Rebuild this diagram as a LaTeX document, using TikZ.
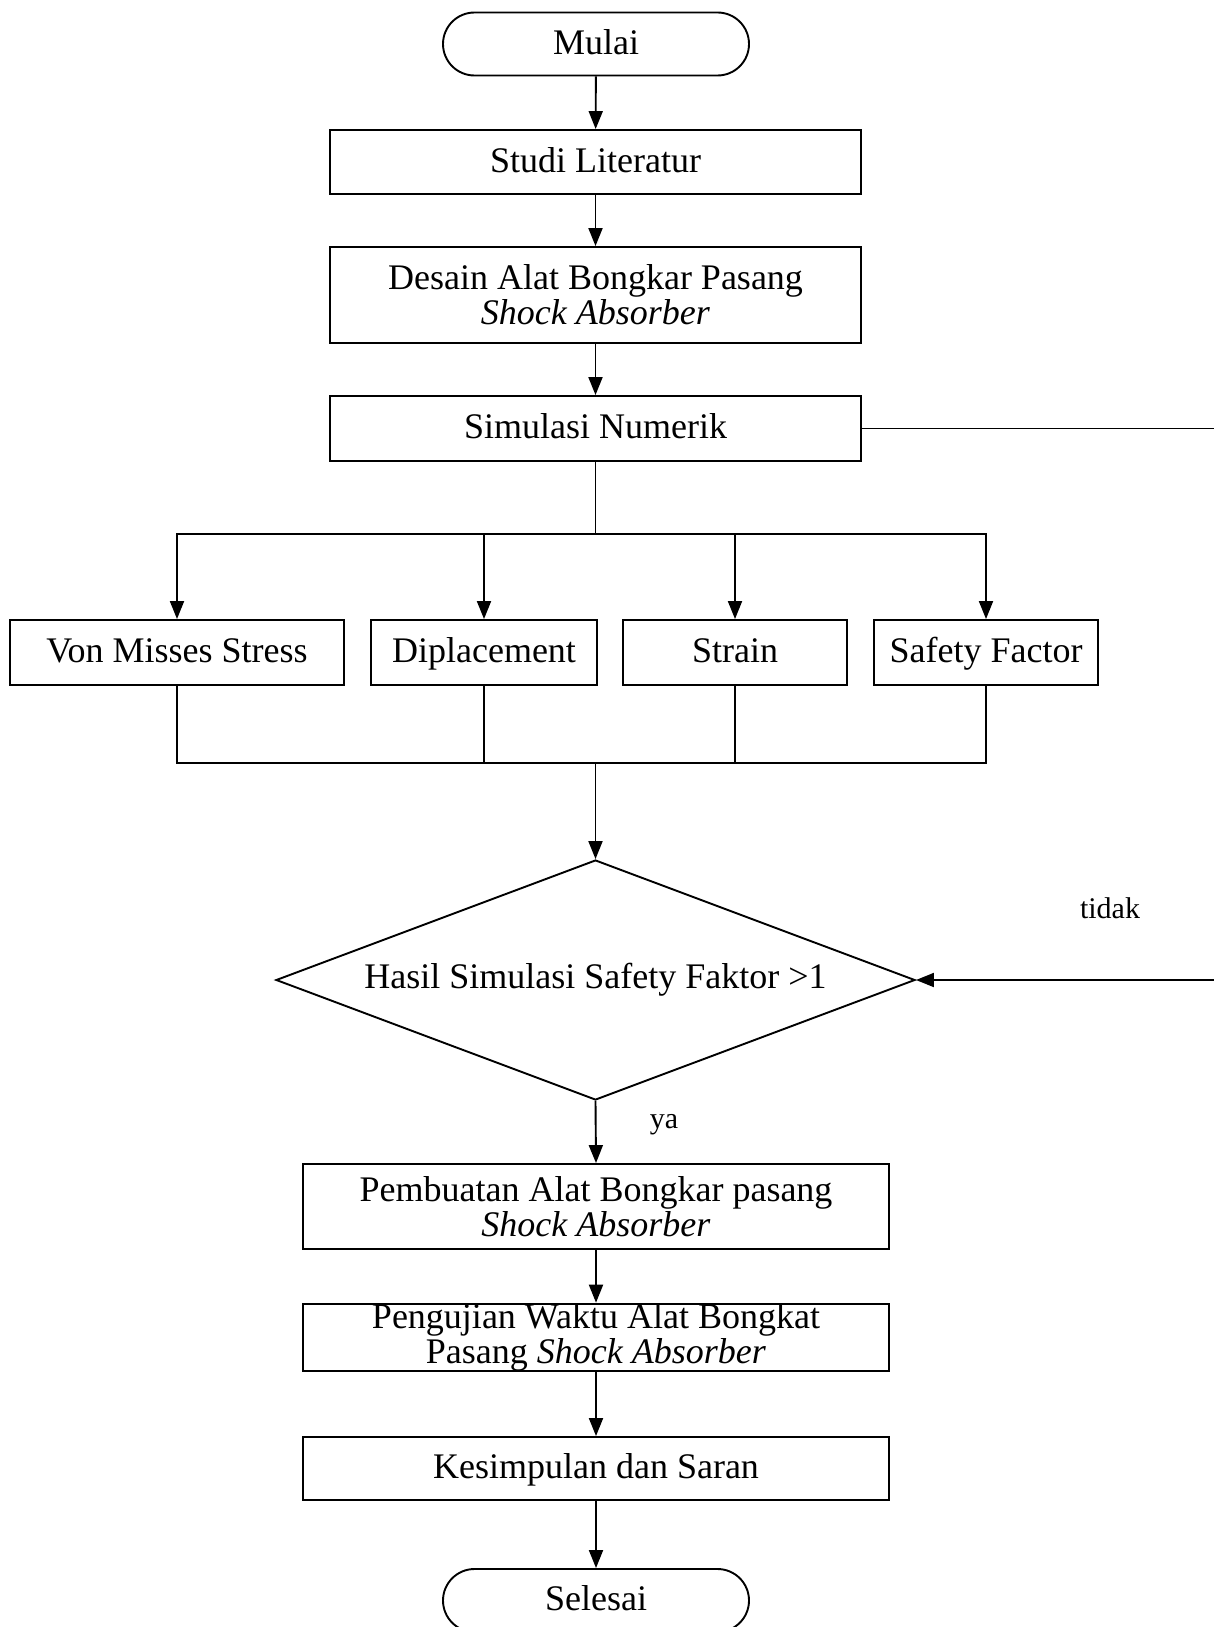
\documentclass[tikz,border=0pt]{standalone}
\usepackage{fontspec}
\setmainfont{Liberation Serif}
\usetikzlibrary{shapes.geometric,arrows.meta}
\begin{document}
\begin{tikzpicture}[x=0.5pt,y=0.5pt,
  every node/.style={font=\fontsize{18}{17.5}\selectfont, align=center, inner sep=0pt},
  box/.style={draw, line width=0.95pt, rectangle},
  one/.style={text height=13pt, text depth=2.8pt},
  term/.style={draw, line width=0.95pt, rectangle, rounded corners=15.75pt, minimum width=153pt, minimum height=31.5pt, one},
  dec/.style={draw, line width=0.95pt, diamond, shape aspect=2.66, minimum width=319.5pt, minimum height=120pt},
  conn/.style={line width=0.95pt},
  arr/.style={line width=0.95pt, -{Triangle[length=9pt,width=7pt]}},
  lbl/.style={font=\fontsize{15}{15}\selectfont}
]
\useasboundingbox (0,0) rectangle (1214,-1627);
\fill[white] (0,0) rectangle (1214,-1627);

\node[term] (mulai) at (596,-44) {Mulai};
\node[box, one, minimum width=265.5pt, minimum height=32pt] (studi) at (595.5,-162) {Studi Literatur};
\node[box, minimum width=265.5pt, minimum height=48pt] (desain) at (595.5,-295) {Desain Alat Bongkar Pasang\\\textit{Shock Absorber}};
\node[box, one, minimum width=265.5pt, minimum height=32.5pt] (sim) at (595.5,-428.5) {Simulasi Numerik};

\node[box, one, minimum width=167pt, minimum height=32.5pt] (vm) at (177,-652.5) {Von Misses Stress};
\node[box, one, minimum width=113pt, minimum height=32.5pt] (dip) at (484,-652.5) {Diplacement};
\node[box, one, minimum width=112pt, minimum height=32.5pt] (strain) at (735,-652.5) {Strain};
\node[box, one, minimum width=112pt, minimum height=32.5pt] (sf) at (986,-652.5) {Safety Factor};

\node[dec] (dia) at (595.5,-980) {Hasil Simulasi Safety Faktor >1};

\node[box, minimum width=293pt, minimum height=42.5pt] (pemb) at (596,-1206.5) {Pembuatan Alat Bongkar pasang\\\textit{Shock Absorber}};
\node[box, minimum width=293pt, minimum height=32.5pt] (peng) at (596,-1337.5) {Pengujian Waktu Alat Bongkat\\Pasang \textit{Shock Absorber}};
\node[box, one, minimum width=293pt, minimum height=31.5pt] (kes) at (596,-1468.5) {Kesimpulan dan Saran};
\node[term] (sel) at (596,-1600.5) {Selesai};

\node[lbl] (tidak) at (1110,-908) {tidak};
\node[lbl] (ya) at (664,-1125) {ya};

\coordinate (bus) at (595.5,-534);
\coordinate (merge) at (595.5,-763);
\coordinate (fb) at (1232,-428.5);

\draw[arr] (mulai) -- (studi);
\draw[arr] (studi) -- (desain);
\draw[arr] (desain) -- (sim);
\draw[conn] (sim.south) -- (bus);
\draw[arr] (bus) -| (vm.north);
\draw[arr] (bus) -| (dip.north);
\draw[arr] (bus) -| (strain.north);
\draw[arr] (bus) -| (sf.north);
\draw[conn] (vm.south) |- (merge);
\draw[conn] (dip.south) |- (merge);
\draw[conn] (strain.south) |- (merge);
\draw[conn] (sf.south) |- (merge);
\draw[arr] (merge) -- (dia.north);
\draw[arr] (sim.east) -- (fb) |- (dia.east);
\draw[arr] (dia.south) -- (pemb.north);
\draw[arr] (pemb) -- (peng);
\draw[arr] (peng) -- (kes);
\draw[arr] (kes) -- (sel);
\end{tikzpicture}
\end{document}
